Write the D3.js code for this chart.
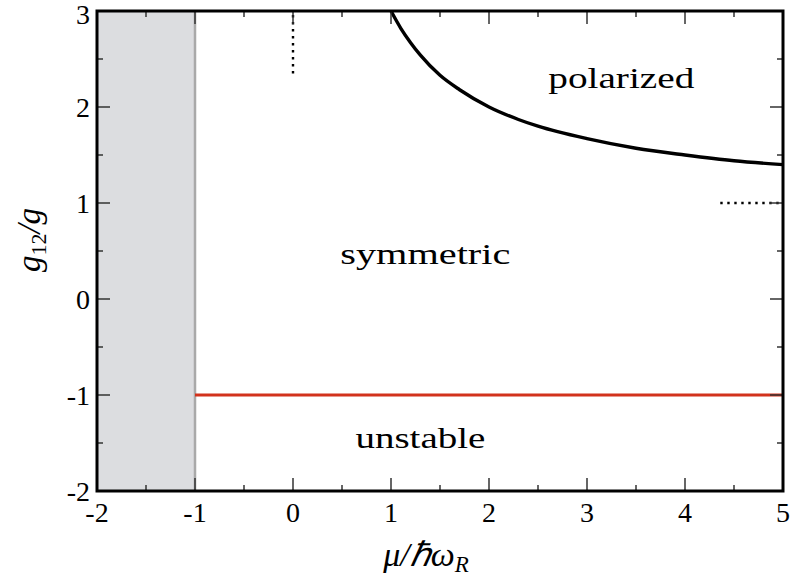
<!DOCTYPE html>
<html>
<head>
<meta charset="utf-8">
<script src="https://cdn.jsdelivr.net/npm/d3@7"></script>
<style>
  html, body { margin: 0; padding: 0; background: #fff; }
  svg { display: block; }
</style>
</head>
<body>
<svg id="chart" width="794" height="577"></svg>
<script>
// Axis ranges and ticks
const xDomain = [-2, 5];
const yDomain = [-2, 3];
const xMajorTicks = [-2, -1, 0, 1, 2, 3, 4, 5];
const yMajorTicks = [-2, -1, 0, 1, 2, 3];
const xMinorTicks = [-1.5, -0.5, 0.5, 1.5, 2.5, 3.5, 4.5];
const yMinorTicks = [-1.5, -0.5, 0.5, 1.5, 2.5];

// Excluded region (mu < -1) and phase boundaries
const shadedRange = [-2, -1];
const unstableBoundary = { x0: -1, x1: 5, y: -1 };

// Symmetric / polarized boundary
const boundaryMu  = [1.0, 1.1, 1.2, 1.3, 1.5, 1.7, 2.0, 2.3, 2.5, 3.0, 3.5, 4.0, 4.5, 5.0];
const boundaryG12 = [3.0, 2.82, 2.67, 2.54, 2.33, 2.18, 2.0, 1.87, 1.80, 1.67, 1.57, 1.50, 1.44, 1.40];

// Dotted guide marks
const dottedVertical = { x: 0, y0: 2.35, y1: 3 };
const dottedHorizontal = { y: 1, x0: 4.36, x1: 5 };

// Region labels
const regionLabels = [
  { text: "polarized", x: 3.35, y: 2.2, width: 146 },
  { text: "symmetric", x: 1.35, y: 0.36, width: 170 },
  { text: "unstable", x: 1.3, y: -1.55, width: 130 }
];

const svg = d3.select("#chart");
const margin = { left: 97, right: 11, top: 11, bottom: 86 };
const W = 794, H = 577;
const serif = '"Liberation Serif"';

const x = d3.scaleLinear().domain(xDomain).range([margin.left, W - margin.right]);
const y = d3.scaleLinear().domain(yDomain).range([H - margin.bottom, margin.top]);

const x0 = x(xDomain[0]), x1 = x(xDomain[1]);
const yTop = y(yDomain[1]), yBot = y(yDomain[0]);

// Shaded region
svg.append("rect")
  .attr("x", x(shadedRange[0])).attr("y", yTop)
  .attr("width", x(shadedRange[1]) - x(shadedRange[0]))
  .attr("height", yBot - yTop)
  .attr("fill", "#dcdde0");

svg.append("line")
  .attr("x1", x(shadedRange[1])).attr("x2", x(shadedRange[1]))
  .attr("y1", yTop).attr("y2", yBot)
  .attr("stroke", "#a9a9a9").attr("stroke-width", 2.5);

// Unstable boundary
svg.append("line")
  .attr("x1", x(unstableBoundary.x0)).attr("x2", x(unstableBoundary.x1))
  .attr("y1", y(unstableBoundary.y)).attr("y2", y(unstableBoundary.y))
  .attr("stroke", "#d2321c").attr("stroke-width", 2.8);

// Polarized boundary curve
const pts = boundaryMu.map((m, i) => [m, boundaryG12[i]]);
svg.append("path")
  .datum(pts)
  .attr("fill", "none").attr("stroke", "#000").attr("stroke-width", 3.4)
  .attr("d", d3.line().x(d => x(d[0])).y(d => y(d[1])).curve(d3.curveMonotoneX));

// Dotted guides
svg.append("line")
  .attr("x1", x(dottedVertical.x)).attr("x2", x(dottedVertical.x))
  .attr("y1", y(dottedVertical.y0)).attr("y2", y(dottedVertical.y1))
  .attr("stroke", "#000").attr("stroke-width", 2.4)
  .attr("stroke-dasharray", "2.4,4.6");
svg.append("line")
  .attr("x1", x(dottedHorizontal.x0)).attr("x2", x(dottedHorizontal.x1))
  .attr("y1", y(dottedHorizontal.y)).attr("y2", y(dottedHorizontal.y))
  .attr("stroke", "#000").attr("stroke-width", 2.4)
  .attr("stroke-dasharray", "2.4,4.6");

// Inward ticks on all four sides
const majorLen = 13, minorLen = 6;
const tickG = svg.append("g").attr("stroke", "#333").attr("stroke-width", 1.5);
function xTicks(vals, len) {
  vals.forEach(v => {
    tickG.append("line").attr("x1", x(v)).attr("x2", x(v)).attr("y1", yBot).attr("y2", yBot - len);
    tickG.append("line").attr("x1", x(v)).attr("x2", x(v)).attr("y1", yTop).attr("y2", yTop + len);
  });
}
function yTicks(vals, len) {
  vals.forEach(v => {
    tickG.append("line").attr("x1", x0).attr("x2", x0 + len).attr("y1", y(v)).attr("y2", y(v));
    tickG.append("line").attr("x1", x1).attr("x2", x1 - len).attr("y1", y(v)).attr("y2", y(v));
  });
}
xTicks(xMajorTicks, majorLen); xTicks(xMinorTicks, minorLen);
yTicks(yMajorTicks, majorLen); yTicks(yMinorTicks, minorLen);

// Frame
svg.append("rect")
  .attr("x", x0).attr("y", yTop).attr("width", x1 - x0).attr("height", yBot - yTop)
  .attr("fill", "none").attr("stroke", "#000").attr("stroke-width", 3);

// Tick labels
svg.append("g").selectAll("text").data(xMajorTicks).join("text")
  .style("font-family", serif)
  .attr("x", d => x(d)).attr("y", yBot + 31)
  .attr("text-anchor", "middle").attr("font-size", 28)
  .text(d => d);
svg.append("g").selectAll("text").data(yMajorTicks).join("text")
  .style("font-family", serif)
  .attr("x", x0 - 7).attr("y", d => Math.max(y(d) + 10, 24))
  .attr("text-anchor", "end").attr("font-size", 28)
  .text(d => d);

// Axis titles
const xt = svg.append("text")
  .style("font-family", serif)
  .attr("x", 426).attr("y", 566)
  .attr("text-anchor", "middle").attr("font-size", 34).attr("font-style", "italic");
xt.append("tspan").text("μ/ℏω");
xt.append("tspan").attr("font-size", 23).attr("dy", 6).text("R");

const yt = svg.append("text")
  .style("font-family", serif)
  .attr("transform", "translate(40,240) rotate(-90)")
  .attr("text-anchor", "middle").attr("font-size", 33).attr("font-style", "italic");
yt.append("tspan").text("g");
yt.append("tspan").attr("font-size", 22).attr("font-style", "normal").attr("dy", 6).text("12");
yt.append("tspan").attr("dy", -6).text("/g");

// Region labels
svg.append("g").selectAll("text").data(regionLabels).join("text")
  .style("font-family", serif)
  .attr("x", d => x(d.x)).attr("y", d => y(d.y))
  .attr("text-anchor", "middle").attr("font-size", 30)
  .attr("textLength", d => d.width).attr("lengthAdjust", "spacingAndGlyphs")
  .text(d => d.text);
</script>
</body>
</html>
